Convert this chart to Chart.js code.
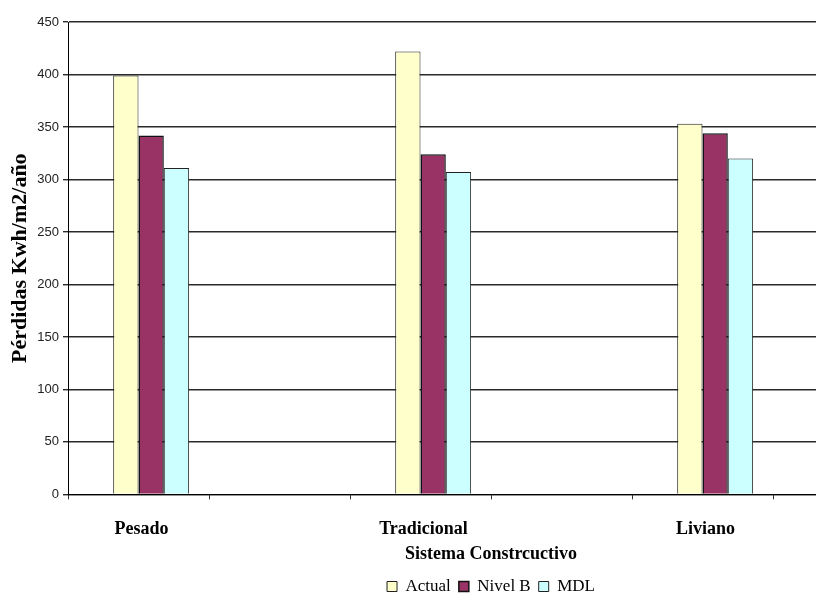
<!DOCTYPE html>
<html>
<head>
<meta charset="utf-8">
<script src="https://cdn.jsdelivr.net/npm/chart.js@4/dist/chart.umd.min.js"></script>
<style>
  html, body { margin: 0; padding: 0; background: #fff; overflow: hidden; }
  #wrap { width: 930px; height: 605px; }
</style>
</head>
<body>
<div id="wrap"><canvas id="c" width="930" height="605"></canvas></div>
<script>
// Construction systems and annual losses (kWh/m2/año) per standard
const categories = ['Pesado', 'Tradicional', 'Liviano'];
const actual = [399, 422, 353];
const nivelB = [342, 324, 344];
const mdl = [311, 307, 320];
const yTicks = [0, 50, 100, 150, 200, 250, 300, 350, 400, 450];

// each system is followed by a blank slot on the axis
const slotLabels = categories.flatMap(c => [c, '']);
const spread = arr => arr.flatMap(v => [v, null]);

const serif = "'Liberation Serif', 'Times New Roman', serif";
const sans = "'Liberation Sans', Arial, sans-serif";

new Chart(document.getElementById('c'), {
  type: 'bar',
  data: {
    labels: slotLabels,
    datasets: [
      { label: '', data: slotLabels.map(() => null), backgroundColor: 'rgba(0,0,0,0)' },
      { label: 'Actual', data: spread(actual), backgroundColor: '#FFFFCC', borderColor: '#222', borderWidth: 1 },
      { label: 'Nivel B', data: spread(nivelB), backgroundColor: '#993366', borderColor: '#111', borderWidth: 1.5 },
      { label: 'MDL', data: spread(mdl), backgroundColor: '#CCFFFF', borderColor: '#222', borderWidth: 1 }
    ]
  },
  options: {
    responsive: false,
    animation: false,
    devicePixelRatio: 1,
    layout: { padding: { top: 22, right: 16, left: 0, bottom: 0 } },
    datasets: { bar: { categoryPercentage: 0.718, barPercentage: 1.0 } },
    plugins: {
      tooltip: { enabled: false },
      legend: {
        position: 'bottom',
        align: 'center',
        fullSize: false,
        labels: {
          filter: item => item.text !== '',
          boxWidth: 10,
          boxHeight: 10,
          padding: 8,
          color: '#000',
          font: { family: serif, size: 17 }
        }
      }
    },
    scales: {
      x: {
        offset: true,
        afterFit: s => { s.height = 75.6; },
        grid: { drawOnChartArea: false, color: '#333', tickLength: 5, offset: true },
        border: { color: '#000', width: 1 },
        ticks: { color: '#000', font: { family: serif, size: 18, weight: 'bold' }, padding: 19, labelOffset: 3, maxRotation: 0, autoSkip: false },
        title: {
          display: true,
          text: 'Sistema Constrcuctivo',
          color: '#000',
          font: { family: serif, size: 18, weight: 'bold' },
          padding: { top: 0, bottom: 5 }
        }
      },
      y: {
        min: 0,
        max: 450,
        afterBuildTicks: s => { s.ticks = yTicks.map(v => ({ value: v })); },
        afterFit: s => { s.width = 68; },
        grid: { color: '#2a2a2a', lineWidth: 1.4, tickLength: 5 },
        border: { color: '#000', width: 1 },
        ticks: { color: '#222', font: { family: sans, size: 13 }, padding: 4 },
        title: {
          display: true,
          text: 'Pérdidas Kwh/m2/año',
          color: '#000',
          font: { family: serif, size: 22, weight: 'bold' },
          padding: { top: 7, bottom: 0 }
        }
      }
    }
  }
});
</script>
</body>
</html>
